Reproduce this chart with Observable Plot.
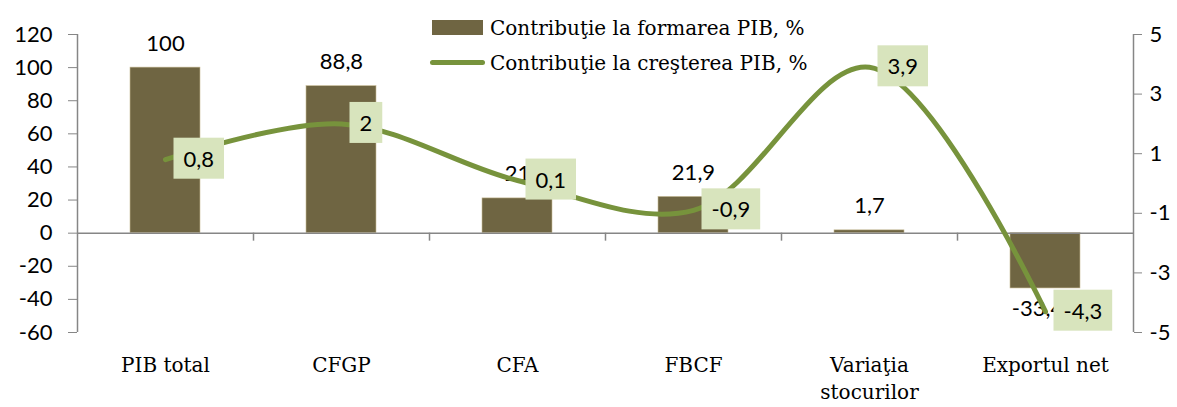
<!DOCTYPE html>
<html><head><meta charset="utf-8">
<script src="https://cdn.jsdelivr.net/npm/d3@7"></script>
<script src="https://cdn.jsdelivr.net/npm/@observablehq/plot@0.6"></script>
<style>
body{margin:0;background:#fff;}
#wrap{position:relative;width:1177px;height:407px;}
#legend{position:absolute;left:430px;top:10px;font-family:"DejaVu Serif";font-size:20px;color:#000;}
.row{display:flex;align-items:center;height:35px;white-space:nowrap;}
.sw-bar{width:51px;height:15px;background:#6f6542;margin-left:2px;margin-right:7px;}
.sw-line{width:55px;height:5px;border-radius:3px;background:#77933c;margin-right:5px;}
</style></head>
<body>
<div id="wrap">
<div id="legend">
<div class="row"><div class="sw-bar"></div><span>Contribuţie la formarea PIB, %</span></div>
<div class="row"><div class="sw-line"></div><span>Contribuţie la creşterea PIB, %</span></div>
</div>
</div>
<script>
const categories = ["PIB total", "CFGP", "CFA", "FBCF", "Variaţia stocurilor", "Exportul net"];
const formare = [100, 88.8, 21, 21.9, 1.7, -33.4];
const crestere = [0.8, 2, 0.1, -0.9, 3.9, -4.3];
const leftTicks = [-60, -40, -20, 0, 20, 40, 60, 80, 100, 120];
const rightTicks = [-5, -3, -1, 1, 3, 5];

const W = 1177, H = 407, mL = 77, mR = 44, mT = 34, mB = 75;
const leftDomain = [-60, 120], rightDomain = [-5, 5];
const toLeft = r => (r - rightDomain[0]) / (rightDomain[1] - rightDomain[0]) * (leftDomain[1] - leftDomain[0]) + leftDomain[0];
const fromLeft = l => Math.round((l - leftDomain[0]) / (leftDomain[1] - leftDomain[0]) * (rightDomain[1] - rightDomain[0]) + rightDomain[0]);
const fmt = d => String(d).replace(".", ",");
const step = (W - mL - mR) / categories.length;
const pxPerUnit = (H - mT - mB) / (leftDomain[1] - leftDomain[0]);

const bars = categories.map((c, i) => ({c, v: formare[i]}));
const pts = categories.map((c, i) => ({c, v: crestere[i], y: toLeft(crestere[i])}));

const gray = "#868686";
const barColor = "#6f6542";
const lineColor = "#77933c";

const plot = Plot.plot({
  width: W, height: H,
  marginLeft: mL, marginRight: mR, marginTop: mT, marginBottom: mB,
  style: {fontFamily: "Lato", fontSize: "22px", color: "#000", background: "#fff"},
  x: {domain: categories, paddingInner: 0.6, paddingOuter: 0.3, label: null},
  y: {domain: leftDomain, label: null},
  marks: [
    Plot.barY(bars, {x: "c", y: "v", fill: barColor, stroke: "#c8bc96", strokeWidth: 0.6}),
    Plot.ruleY([0], {stroke: gray, strokeWidth: 1.5}),
    Plot.ruleX(categories.slice(0, -1), {x: d => d, dx: step / 2, y1: 0, y2: -8 / pxPerUnit, stroke: gray, strokeWidth: 1.5}),
    Plot.ruleX([categories[0]], {x: d => d, dx: -step / 2, y1: leftDomain[0], y2: leftDomain[1], stroke: gray, strokeWidth: 1.5}),
    Plot.ruleX([categories[categories.length - 1]], {x: d => d, dx: step / 2, y1: leftDomain[0], y2: leftDomain[1], stroke: gray, strokeWidth: 1.5}),
    Plot.axisY({anchor: "left", ticks: leftTicks, tickSize: 9, tickPadding: 16, stroke: gray, fill: "#000", fontSize: 22, tickFormat: d => String(d)}),
    Plot.axisY({anchor: "right", ticks: rightTicks.map(toLeft), tickSize: 8, tickPadding: 8, stroke: gray, fill: "#000", fontSize: 22, tickFormat: d => String(fromLeft(d))}),
    Plot.axisX({anchor: "bottom", tickSize: 0, tickPadding: 20, fontFamily: "DejaVu Serif", fontSize: 20, lineHeight: 1.35, fill: "#000",
      tickFormat: d => d.replace("Variaţia ", "Variaţia\n")}),
    Plot.text(bars.filter(d => d.v >= 0), {x: "c", y: "v", text: d => fmt(d.v), dy: -24, fill: "#000", fontSize: 22}),
    Plot.text(bars.filter(d => d.v < 0), {x: "c", y: "v", text: d => fmt(d.v), dy: 20, dx: -8, fill: "#000", fontSize: 22}),
    Plot.line(pts, {x: "c", y: "y", curve: "catmull-rom", stroke: lineColor, strokeWidth: 5, strokeLinecap: "round"}),
    Plot.text(pts, {x: "c", y: "y", text: d => fmt(d.v), textAnchor: "start", dx: 18, fill: "#000", fontSize: 22})
  ]
});
const wrap = document.getElementById("wrap");
wrap.insertBefore(plot, wrap.firstChild);

const svg = wrap.querySelector("svg");
const groups = svg.querySelectorAll('g[aria-label="text"]');
const lastGroup = groups[groups.length - 1];
if (lastGroup) {
  Array.from(lastGroup.querySelectorAll("text")).forEach(t => {
    const b = t.getBBox();
    const r = document.createElementNS("http://www.w3.org/2000/svg", "rect");
    const px = 10, py = 7;
    r.setAttribute("x", b.x - px);
    r.setAttribute("y", b.y - py);
    r.setAttribute("width", b.width + 2 * px);
    r.setAttribute("height", b.height + 2 * py);
    r.setAttribute("fill", "#d8e4bd");
    r.setAttribute("stroke", "none");
    const tr = t.getAttribute("transform");
    if (tr) r.setAttribute("transform", tr);
    t.parentNode.insertBefore(r, t);
  });
}
</script>
</body></html>
